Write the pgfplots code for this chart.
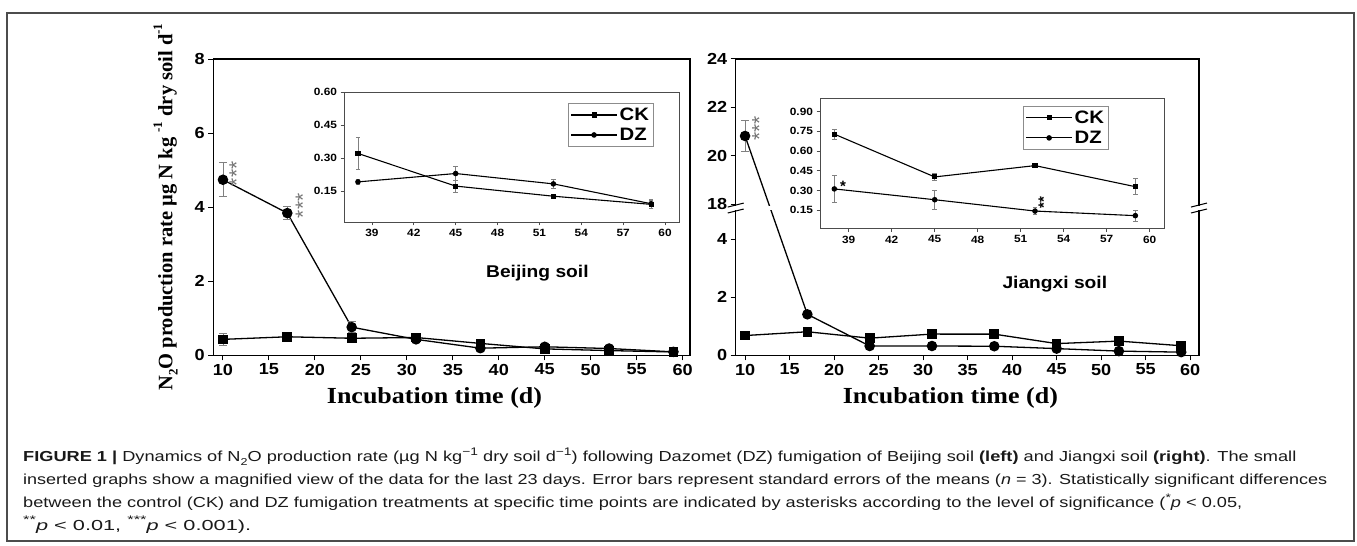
\documentclass[border=0pt]{standalone}
\usepackage{pgfplots}
\pgfplotsset{compat=1.18}
\usepackage{pgfplotstable}
\usepackage{graphicx}
\usepackage{fontspec}
\setmainfont{Liberation Sans}
\newfontfamily\timesf{Liberation Serif}
\newfontfamily\sfw{Liberation Sans}[FakeStretch=1.13]
\newfontfamily\tmw{Liberation Serif}[FakeStretch=1.13]

\newcommand{\fs}[1]{\fontsize{#1}{#1}\selectfont}
\newcommand{\capsub}[1]{\raisebox{-0.22em}{\fs{10}#1}}
\newcommand{\capsup}[1]{\raisebox{0.42em}{\fs{11}#1}}
\newcommand{\lsub}[1]{\raisebox{-0.25em}{\fs{13}#1}}
\newcommand{\lsup}[1]{\raisebox{0.5em}{\fs{13}#1}}

% Beijing soil
\pgfplotstableread{
x  ck    cke    dz    dze
10 0.43  0.16   4.74  0.46
17 0.50  0.06   3.84  0.18
24 0.46  0.06   0.76  0.15
31 0.48  0.05   0.43  0.08
38 0.321 0.074  0.192 0.010
45 0.173 0.027  0.230 0.033
52 0.127 0.008  0.183 0.022
59 0.090 0.020  0.093 0.020
}\beijing

% Jiangxi soil
\pgfplotstableread{
x  ck    cke    dz    dze
10 0.68  0.10   20.82 0.54
17 0.81  0.05   1.41  0.05
24 0.59  0.15   0.32  0.05
31 0.73  0.04   0.32  0.04
38 0.728 0.038  0.312 0.103
45 0.403 0.025  0.230 0.070
52 0.489 0.012  0.144 0.025
59 0.329 0.060  0.109 0.040
}\jiangxi

\tikzset{stars/.style={rotate=90, text=black!55, font=\fs{21}, xshift=4pt}}

\pgfplotsset{
  mainax/.style={scale only axis, anchor=south west, axis on top=false,
    axis line style={line width=1.2pt, black},
    tick align=outside, xtick pos=bottom, ytick pos=left,
    major tick length=5pt, tick style={line width=1pt, black},
    ticklabel style={font=\sfw\bfseries\fs{16}},
    /pgf/number format/assume math mode=true,
    xtick={10,15,...,60},
    clip=false,
  },
  insetax/.style={scale only axis, anchor=south west,
    axis line style={line width=0.9pt, black!70},
    tick align=outside, xtick pos=bottom, ytick pos=left,
    major tick length=3.5pt, tick style={line width=0.8pt, black!70},
    ticklabel style={font=\sfw\bfseries\fs{10.5}},
    /pgf/number format/assume math mode=true,
    xmin=37, xmax=61, xtick={39,42,...,60},
    yticklabel style={/pgf/number format/.cd, fixed, fixed zerofill, precision=2},
    legend style={draw=black!45, line width=0.8pt, font=\sfw\bfseries\fs{18},
      inner sep=2.5pt, row sep=2pt, anchor=north east, fill=white},
    legend cell align=left,
    legend image code/.code={\draw[mark repeat=2, mark phase=2, #1] plot coordinates {(0pt,0pt) (23pt,0pt) (46pt,0pt)};},
  },
  ckm/.style={black, line width=1.3pt, mark=square*, mark size=4.2pt, mark options={solid, fill=black}},
  dzm/.style={black, line width=1.3pt, mark=*, mark size=4.6pt, mark options={solid, fill=black}},
  cki/.style={black, line width=1.1pt, mark=square*, mark size=2pt, mark options={solid, fill=black}},
  dzi/.style={black, line width=1.1pt, mark=*, mark size=2.2pt, mark options={solid, fill=black}},
  ebar/.style={error bars/.cd, y dir=both, y explicit,
    error bar style={black!50, line width=0.7pt},
    error mark options={black!50, rotate=90, mark size=4pt, line width=0.7pt}},
  ebari/.style={error bars/.cd, y dir=both, y explicit,
    error bar style={black!50, line width=0.6pt},
    error mark options={black!50, rotate=90, mark size=2.2pt, line width=0.6pt}},
}

\begin{document}%
\begin{tikzpicture}[x=1pt, y=1pt]
\useasboundingbox (0,0) rectangle (1357,546);
\draw[black!70, line width=1.2pt] (7,533) rectangle (1354,5);

% ================= Beijing main =================
\begin{axis}[mainax, at={(213.3pt,190.7pt)}, width=476.7pt, height=296.3pt,
  xmin=8.95, xmax=60.8, ymin=0, ymax=8, ytick={0,2,4,6,8},
  xlabel={Incubation time (d)},
  xlabel style={font=\tmw\bfseries\fs{23}, at={(rel axis cs:0.464,-0.145)}, anchor=center},
  ylabel={N\lsub{2}O production rate µg N kg \lsup{-1} dry soil d\lsup{-1}},
  ylabel style={font=\timesf\bfseries\fs{20.5}, at={(rel axis cs:-0.1,0.5)}, anchor=center},
]
\addplot+[ckm, forget plot, ebar] table[x=x, y=ck, y error=cke] {\beijing};
\addplot+[dzm, forget plot, ebar] table[x=x, y=dz, y error=dze] {\beijing};
\node[stars] at (axis cs:11.5,4.79) {***};
\node[stars] at (axis cs:18.7,3.93) {***};
\node[font=\sfw\bfseries\fs{17}] at (axis cs:44.2,2.22) {Beijing soil};
\end{axis}

\begin{axis}[insetax, at={(344pt,324pt)}, width=335pt, height=130pt,
  ymin=0.01, ymax=0.60, ytick={0.15,0.30,0.45,0.60},
  legend style={at={(0.925,0.915)}},
]
\addplot+[cki, restrict x to domain=37:61, ebari] table[x=x, y=ck, y error=cke] {\beijing};
\addlegendentry{CK}
\addplot+[dzi, restrict x to domain=37:61, ebari] table[x=x, y=dz, y error=dze] {\beijing};
\addlegendentry{DZ}
\end{axis}

% ================= Jiangxi main =================
\begin{axis}[mainax, at={(735.7pt,190.7pt)}, width=463.3pt, height=296.3pt,
  xmin=8.95, xmax=61.0, ymin=0, ymax=24,
  y coord trafo/.code={\pgfmathparse{ifthenelse(#1>10, 5.2+(#1-18)*5/6, #1)}},
  y coord inv trafo/.code={\pgfmathparse{ifthenelse(#1>5.1, 18+(#1-5.2)*1.2, #1)}},
  ytick={0,2,4,18,20,22,24}, yticklabels={0,2,4,18,20,22,24},
  xlabel={Incubation time (d)},
  xlabel style={font=\tmw\bfseries\fs{23}, at={(rel axis cs:0.4634,-0.145)}, anchor=center},
]
\addplot+[ckm, forget plot, ebar] table[x=x, y=ck, y error=cke] {\jiangxi};
\addplot+[dzm, forget plot, ebar] table[x=x, y=dz, y error=dze] {\jiangxi};
% axis break
\fill[white] (rel axis cs:-0.004,0.4895) rectangle (rel axis cs:0.12,0.5055);
\fill[white] (rel axis cs:0.99,0.4895) rectangle (rel axis cs:1.004,0.5055);
\draw[black, line width=1pt] (rel axis cs:0,0.487) ++(-8pt,-2pt) -- ++(16pt,4pt);
\draw[black, line width=1pt] (rel axis cs:0,0.507) ++(-8pt,-2pt) -- ++(16pt,4pt);
\draw[black, line width=1pt] (rel axis cs:1,0.487) ++(-8pt,-2pt) -- ++(16pt,4pt);
\draw[black, line width=1pt] (rel axis cs:1,0.507) ++(-8pt,-2pt) -- ++(16pt,4pt);
\node[stars] at (axis cs:11.6,20.98) {***};
\node[font=\sfw\bfseries\fs{17}] at (axis cs:44.8,2.46) {Jiangxi soil};
\end{axis}

\begin{axis}[insetax, at={(820pt,317.3pt)}, width=344pt, height=130.4pt,
  ymin=0.01, ymax=1.0, ytick={0.15,0.30,0.45,0.60,0.75,0.90},
  legend style={at={(0.84,0.941)}},
]
\addplot+[cki, restrict x to domain=37:61, ebari] table[x=x, y=ck, y error=cke] {\jiangxi};
\addlegendentry{CK}
\addplot+[dzi, restrict x to domain=37:61, ebari] table[x=x, y=dz, y error=dze] {\jiangxi};
\addlegendentry{DZ}
\node[font=\bfseries\fs{15}] at (axis cs:38.6,0.33) {*};
\node[rotate=90, font=\bfseries\fs{15}, xshift=2pt] at (axis cs:52.6,0.193) {**};
\end{axis}

% ================= Caption =================
\begin{scope}[every node/.style={anchor=base west, inner sep=0pt, text=black!90}]
\node at (23,546-462) {\resizebox{1273pt}{\height}{\fs{14.5}\textbf{FIGURE 1 |} Dynamics of N\capsub{2}O production rate (µg N kg\capsup{−1} dry soil d\capsup{−1}) following Dazomet (DZ) fumigation of Beijing soil \textbf{(left)} and Jiangxi soil \textbf{(right)}. The small}};
\node at (23,546-485) {\resizebox{1304pt}{\height}{\fs{14.5}inserted graphs show a magnified view of the data for the last 23 days. Error bars represent standard errors of the means (\textit{n} = 3). Statistically significant differences}};
\node at (23,546-508) {\resizebox{1219pt}{\height}{\fs{14.5}between the control (CK) and DZ fumigation treatments at specific time points are indicated by asterisks according to the level of significance (\capsup{*}\textit{p} < 0.05,}};
\node at (23,546-530) {\resizebox{228pt}{\height}{\fs{14.5}\capsup{**}\textit{p} < 0.01, \capsup{***}\textit{p} < 0.001).}};
\end{scope}
\end{tikzpicture}%
\end{document}
